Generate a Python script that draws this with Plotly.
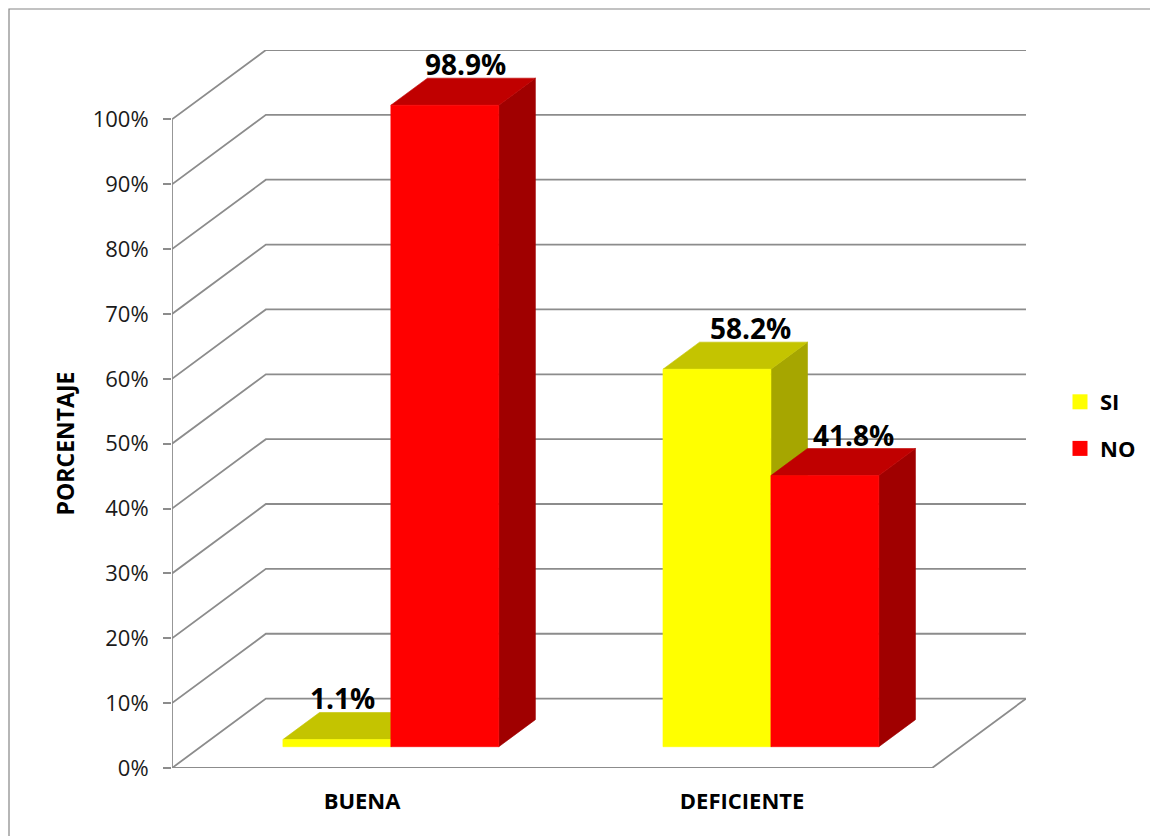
import plotly.graph_objects as go

# ---------------- data ----------------
categories = ["BUENA", "DEFICIENTE"]
series_names = ["SI", "NO"]
si_values = [1.1, 58.2]
no_values = [98.9, 41.8]
y_tick_values = [0, 10, 20, 30, 40, 50, 60, 70, 80, 90, 100]
y_tick_labels = ["0%", "10%", "20%", "30%", "40%", "50%", "60%", "70%", "80%", "90%", "100%"]
label_texts_si = ["1.1%", "58.2%"]
label_texts_no = ["98.9%", "41.8%"]

# ---------------- style / geometry ----------------
W, H = 1150, 836
M_L, M_R, M_T, M_B = 172, 124, 50, 68
DX = 0.247          # oblique depth offset, x (category units)
DY = 10.7           # oblique depth offset, y (percent units)
F_FRONT = 0.307     # depth fraction of bar front plane
BAR_D = 0.39        # bar depth fraction
BAR_W = 0.284       # bar width (category units)
GRID = "#8C8C8C"
FONT = "Open Sans"
COLORS = {
    "SI": {"front": "#FFFF00", "top": "#C4C400", "side": "#A6A600"},
    "NO": {"front": "#FF0000", "top": "#C00000", "side": "#A00000"},
}
label_xshift_si = [-13, 15]
label_xshift_no = [2, 10]

fig = go.Figure()

# ---- walls / gridlines ----
gx, gy = [], []
for v in y_tick_values:
    gx += [-0.5, -0.5 + DX, len(categories) - 0.5 + DX, None]
    gy += [v, v + DY, v + DY, None]
fig.add_trace(go.Scatter(x=gx, y=gy, mode="lines", line=dict(color=GRID, width=1.8),
                         hoverinfo="skip", showlegend=False))
# floor front / right edge and vertical axis line
fig.add_trace(go.Scatter(
    x=[-0.5, -0.5, None, -0.5, len(categories) - 0.5, len(categories) - 0.5 + DX],
    y=[y_tick_values[-1], 0, None, 0, 0, DY],
    mode="lines", line=dict(color=GRID, width=1.8), hoverinfo="skip", showlegend=False))


def add_face(xs, ys, color):
    fig.add_trace(go.Scatter(x=xs + [xs[0]], y=ys + [ys[0]], mode="lines", fill="toself",
                             fillcolor=color, line=dict(color=color, width=0.6),
                             hoverinfo="skip", showlegend=False))


annotations = []
values_by_series = [si_values, no_values]
texts_by_series = [label_texts_si, label_texts_no]
shifts_by_series = [label_xshift_si, label_xshift_no]
for i, cat in enumerate(categories):
    for j, name in enumerate(series_names):
        v = values_by_series[j][i]
        c = COLORS[name]
        xl = i + F_FRONT * DX + (j - 1) * BAR_W
        xr = xl + BAR_W
        base = F_FRONT * DY
        top = base + v
        ddx, ddy = BAR_D * DX, BAR_D * DY
        # side
        add_face([xr, xr, xr + ddx, xr + ddx], [base, top, top + ddy, base + ddy], c["side"])
        # top
        add_face([xl, xr, xr + ddx, xl + ddx], [top, top, top + ddy, top + ddy], c["top"])
        # front
        add_face([xl, xr, xr, xl], [base, base, top, top], c["front"])
        annotations.append(dict(
            x=(xl + xr + ddx) / 2, y=top + ddy, xref="x", yref="y",
            text="<b>" + texts_by_series[j][i] + "</b>", showarrow=False,
            xanchor="center", yanchor="middle", yshift=14, xshift=shifts_by_series[j][i],
            font=dict(family=FONT, size=28, color="#000000")))

# legend entries
for name in series_names:
    fig.add_trace(go.Scatter(x=[None], y=[None], mode="markers", name=name,
                             legendgroup=name,
                             marker=dict(symbol="square", size=15, color=COLORS[name]["front"])))

annotations.append(dict(
    x=(64.7 - M_L) / (W - M_L - M_R), y=50, xref="paper", yref="y",
    text="<b>PORCENTAJE</b>", textangle=-90, showarrow=False,
    xanchor="center", yanchor="middle",
    font=dict(family=FONT, size=23, color="#000000")))

plot_w = W - M_L - M_R
plot_h = H - M_T - M_B
fig.update_layout(
    width=W, height=H, autosize=False,
    margin=dict(l=M_L, r=M_R, t=M_T, b=M_B, pad=0, autoexpand=False),
    paper_bgcolor="white", plot_bgcolor="white",
    font=dict(family=FONT, color="#000000"),
    xaxis=dict(range=[-0.5, len(categories) - 0.5 + DX], tickvals=list(range(len(categories))),
               ticktext=["<b>" + c + "</b>" for c in categories],
               showgrid=False, zeroline=False, showline=False, ticks="",
               ticklabelstandoff=18, tickfont=dict(family=FONT, size=22, color="#000000"),
               fixedrange=True),
    yaxis=dict(range=[0, y_tick_values[-1] + DY], tickvals=y_tick_values, ticktext=y_tick_labels,
               showgrid=False, zeroline=False, showline=False,
               ticks="outside", ticklen=8, tickwidth=2, tickcolor=GRID,
               ticklabelstandoff=10, tickfont=dict(family=FONT, size=22, color="#1A1A1A"),
               fixedrange=True),
    legend=dict(x=(1060 - M_L) / plot_w, y=(M_T + plot_h - 381) / plot_h, xanchor="left", yanchor="top",
                traceorder="grouped", tracegroupgap=15,
                font=dict(family=FONT, size=22, color="#000000", weight="bold"),
                bgcolor="rgba(0,0,0,0)"),
    annotations=annotations,
    shapes=[dict(type="rect", xref="paper", yref="paper",
                 x0=(9 - M_L) / plot_w, x1=1.3,
                 y0=-0.3, y1=(H - M_B - 9) / plot_h,
                 line=dict(color="#868686", width=1.2), fillcolor="rgba(0,0,0,0)", layer="below")],
    showlegend=True,
)

fig.write_html("out.html",
               config={"displayModeBar": False, "responsive": False},
               post_script="document.body.style.margin='0';document.body.style.overflow='hidden';")
